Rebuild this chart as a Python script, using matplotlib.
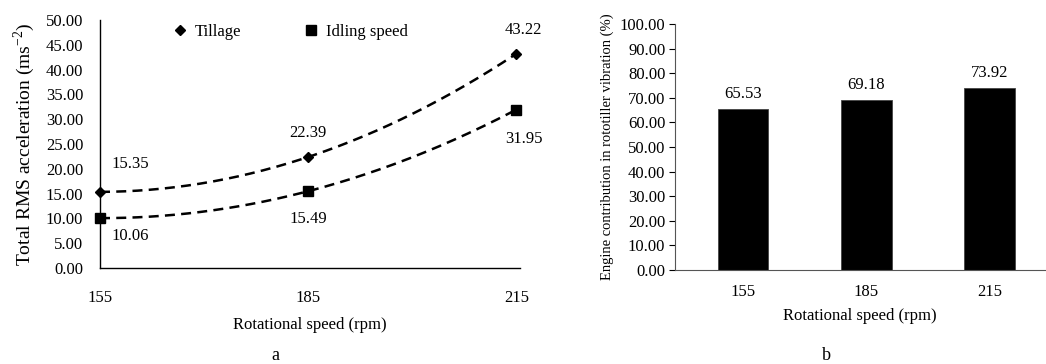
import numpy as np
import matplotlib

matplotlib.use("Agg")
import matplotlib.pyplot as plt

plt.rcParams["font.family"] = ["Liberation Serif", "DejaVu Serif"]

# rotational speeds and measured vibration
speeds = [155, 185, 215]
tillage = [15.35, 22.39, 43.22]
idling = [10.06, 15.49, 31.95]
engine_share = [65.53, 69.18, 73.92]
speed_labels = ["155", "185", "215"]

fig = plt.figure(figsize=(10.46, 3.64), dpi=100)

# --- panel a: RMS acceleration with quadratic trendlines ---
ax1 = fig.add_axes([0.0956, 0.2637, 0.4015, 0.6813])
xs = np.linspace(speeds[0], speeds[-1], 200)
for vals, marker, ms, label in [(tillage, "D", 5, "Tillage"), (idling, "s", 7, "Idling speed")]:
    coef = np.polyfit(speeds, vals, 2)
    ax1.plot(xs, np.polyval(coef, xs), color="black", linestyle=(0, (4, 2.5)), linewidth=1.8)
    ax1.plot(speeds, vals, linestyle="none", marker=marker, markersize=ms, color="black",
             label=label, clip_on=False, zorder=5)

offsets_t = [(8, 20), (0, 17), (5, 17)]
offsets_i = [(8, -13), (0, -20), (5, -21)]
for x, y, (dx, dy) in zip(speeds, tillage, offsets_t):
    ax1.annotate(f"{y:.2f}", (x, y), xytext=(dx, dy), textcoords="offset points",
                 ha="left" if x == speeds[0] else "center", va="center", fontsize=12)
for x, y, (dx, dy) in zip(speeds, idling, offsets_i):
    ax1.annotate(f"{y:.2f}", (x, y), xytext=(dx, dy), textcoords="offset points",
                 ha="left" if x == speeds[0] else "center", va="center", fontsize=12)

ax1.set_xlim(155, 215.5)
ax1.set_ylim(0, 50)
ax1.set_xticks(speeds)
ax1.set_xticklabels(speed_labels)
ax1.set_yticks(np.arange(0, 50.1, 5))
ax1.set_yticklabels([f"{v:.2f}" for v in np.arange(0, 50.1, 5)])
ax1.tick_params(axis="both", length=0, labelsize=12)
ax1.tick_params(axis="x", pad=16)
ax1.tick_params(axis="y", pad=12)
for side in ["top", "right"]:
    ax1.spines[side].set_visible(False)
ax1.spines["left"].set_linewidth(1.0)
ax1.spines["bottom"].set_linewidth(1.0)
ax1.set_xlabel("Rotational speed (rpm)", fontsize=12, labelpad=8)
ax1.set_ylabel("Total RMS acceleration (ms$^{\\mathregular{-2}}$)", fontsize=14, labelpad=6)
ax1.legend(loc="upper left", bbox_to_anchor=(0.13, 1.045), ncol=2, frameon=False,
           fontsize=12, handletextpad=0.3, columnspacing=3.6, handlelength=1.2)
fig.text(0.263, 0.01, "a", ha="center", fontsize=13)

# --- panel b: engine contribution bars ---
ax2 = fig.add_axes([0.6453, 0.258, 0.354, 0.676])
pos = np.arange(len(speed_labels))
bars = ax2.bar(pos, engine_share, width=0.41, color="black", edgecolor="#444444", linewidth=0.6)
for b, v in zip(bars, engine_share):
    ax2.annotate(f"{v:.2f}", (b.get_x() + b.get_width() / 2, v), xytext=(0, 5),
                 textcoords="offset points", ha="center", va="bottom", fontsize=12)
ax2.set_xlim(-0.55, 2.45)
ax2.set_ylim(0, 100)
ax2.set_xticks(pos)
ax2.set_xticklabels(speed_labels)
ax2.set_yticks(np.arange(0, 100.1, 10))
ax2.set_yticklabels([f"{v:.2f}" for v in np.arange(0, 100.1, 10)])
ax2.tick_params(axis="x", length=0, labelsize=12, pad=10)
ax2.tick_params(axis="y", length=4, width=0.8, labelsize=12, pad=3)
for side in ["top", "right"]:
    ax2.spines[side].set_visible(False)
ax2.spines["left"].set_color("#555555")
ax2.spines["bottom"].set_color("#555555")
ax2.set_xlabel("Rotational speed (rpm)", fontsize=12, labelpad=6)
ax2.set_ylabel("Engine contribution in rototiller vibration (%)", fontsize=10.5, labelpad=4)
fig.text(0.79, 0.01, "b", ha="center", fontsize=13)

fig.savefig("out.png", dpi=100)
